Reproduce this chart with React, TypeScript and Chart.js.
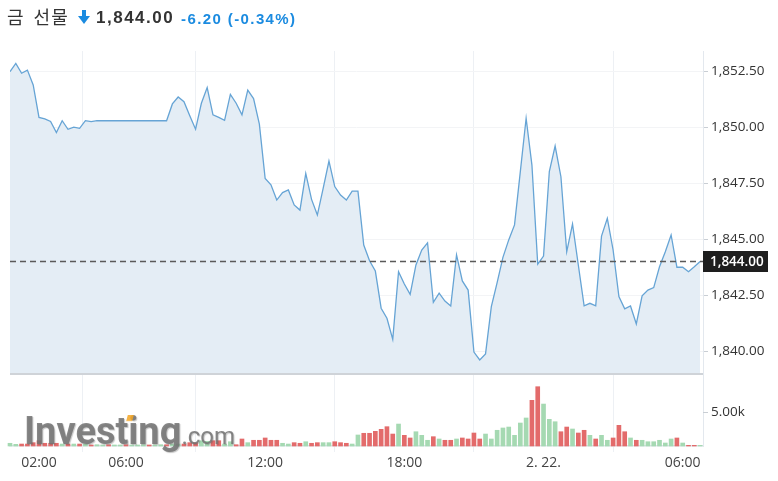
import React, { useEffect, useRef } from 'react';
import { Chart, registerables } from 'chart.js';

Chart.register(...registerables);

// ---- data ----
const prices: number[] = [
  1852.47, 1852.84, 1852.40, 1852.54, 1851.88, 1850.43, 1850.36, 1850.25, 1849.75, 1850.28,
  1849.90, 1849.99, 1849.94, 1850.28, 1850.24, 1850.28, 1850.28, 1850.28, 1850.28, 1850.28,
  1850.28, 1850.28, 1850.28, 1850.28, 1850.28, 1850.28, 1850.28, 1850.28, 1851.03, 1851.34,
  1851.13, 1850.50, 1849.90, 1851.06, 1851.76, 1850.54, 1850.43, 1850.30, 1851.46, 1851.06,
  1850.54, 1851.65, 1851.27, 1850.13, 1847.70, 1847.42, 1846.74, 1847.07, 1847.19, 1846.52,
  1846.29, 1847.93, 1846.77, 1846.07, 1847.26, 1848.48, 1847.34, 1846.96, 1846.74, 1847.14,
  1847.14, 1844.73, 1844.03, 1843.57, 1841.91, 1841.46, 1840.52, 1843.54, 1842.99, 1842.53,
  1843.84, 1844.51, 1844.83, 1842.17, 1842.58, 1842.23, 1842.01, 1844.29, 1843.13, 1842.72,
  1839.95, 1839.60, 1839.87, 1841.98, 1843.05, 1844.18, 1844.96, 1845.63, 1848.01, 1850.39,
  1848.30, 1843.88, 1844.24, 1848.01, 1849.15, 1847.78, 1844.43, 1845.67, 1843.84, 1842.02,
  1842.13, 1842.02, 1845.13, 1845.92, 1844.51, 1842.43, 1841.88, 1842.01, 1841.21, 1842.46,
  1842.72, 1842.83, 1843.76, 1844.43, 1845.18, 1843.74, 1843.74, 1843.54, 1843.76, 1844.00,
];

const volumes: number[] = [
  400, 250, 290, 290, 490, 780, 400, 400, 400, 290,
  290, 290, 290, 290, 150, 190, 150, 190, 150, 150,
  190, 150, 150, 190, 150, 150, 190, 190, 290, 290,
  290, 490, 490, 780, 690, 780, 780, 290, 630, 190,
  1030, 490, 840, 840, 1180, 840, 840, 400, 290, 490,
  400, 630, 400, 490, 490, 490, 630, 490, 400, 290,
  1620, 1870, 1870, 2160, 2450, 2840, 1760, 3230, 1570, 1180,
  2100, 1570, 840, 1370, 1030, 840, 840, 1030, 1180, 1030,
  1910, 1030, 1760, 1030, 2310, 2650, 2790, 1570, 3380, 4120,
  6720, 8720, 6170, 3920, 3570, 2100, 2790, 2500, 1910, 2310,
  1570, 1030, 1570, 840, 1180, 3040, 2100, 1180, 840, 840,
  630, 630, 840, 440, 1030, 1180, 440, 100, 100, 100,
];

// u = up (green), d = down (red)
const volumeDir: string[] = [
  'u', 'u', 'd', 'd', 'd', 'd', 'd', 'd', 'd', 'u',
  'd', 'u', 'd', 'u', 'd', 'u', 'u', 'd', 'u', 'u',
  'd', 'u', 'u', 'u', 'd', 'u', 'u', 'd', 'u', 'u',
  'd', 'd', 'd', 'u', 'u', 'd', 'd', 'u', 'u', 'd',
  'd', 'u', 'd', 'd', 'd', 'd', 'd', 'u', 'u', 'd',
  'd', 'u', 'd', 'd', 'u', 'u', 'd', 'd', 'd', 'u',
  'u', 'd', 'd', 'd', 'd', 'd', 'd', 'u', 'd', 'd',
  'u', 'u', 'u', 'd', 'u', 'd', 'd', 'u', 'd', 'd',
  'd', 'd', 'u', 'u', 'u', 'u', 'u', 'u', 'u', 'u',
  'd', 'd', 'u', 'u', 'u', 'd', 'd', 'u', 'd', 'd',
  'u', 'd', 'u', 'u', 'd', 'd', 'd', 'u', 'd', 'u',
  'u', 'u', 'u', 'u', 'u', 'd', 'u', 'd', 'd', 'u',
];

const xTickIndex: number[] = [5, 20, 44, 68, 92, 116];
const xTickLabels: string[] = ['02:00', '06:00', '12:00', '18:00', '2. 22.', '06:00'];
const priceTicks: number[] = [1840, 1842.5, 1845, 1847.5, 1850, 1852.5];
const volumeTicks: number[] = [5000];
const lastPrice = 1844.0;

const titleName = '금 선물';
const titlePrice = '1,844.00';
const titleChange = '-6.20';
const titleChangePct = '(-0.34%)';

// ---- scale ranges ----
const priceMin = 1835.759;
const priceMax = 1853.393;
const pricePaneFloor = 1839.018;
const volumeMax = 58088;

const UP = '#a5d9b2';
const DOWN = '#e36b6b';

const fmtPrice = (v: number) =>
  v.toLocaleString('en-US', { minimumFractionDigits: 2, maximumFractionDigits: 2 });

const overlayPlugin = {
  id: 'goldOverlay',
  afterDatasetsDraw(chart: any) {
    const { ctx, chartArea: a, scales } = chart;
    const y = scales.y;
    ctx.save();
    const sepY = Math.round(y.getPixelForValue(pricePaneFloor)) + 1;
    ctx.strokeStyle = '#cfd3d8';
    ctx.lineWidth = 2;
    ctx.beginPath();
    ctx.moveTo(a.left, sepY);
    ctx.lineTo(a.right, sepY);
    ctx.stroke();

    const py = Math.round(y.getPixelForValue(lastPrice)) + 0.5;
    ctx.setLineDash([6, 4]);
    ctx.strokeStyle = '#5a5a5a';
    ctx.lineWidth = 1.5;
    ctx.beginPath();
    ctx.moveTo(a.left, py);
    ctx.lineTo(a.right, py);
    ctx.stroke();
    ctx.setLineDash([]);
    ctx.restore();
  },
  afterDraw(chart: any) {
    const { ctx, chartArea: a, scales } = chart;
    const y = scales.y;
    ctx.save();
    const py = Math.round(y.getPixelForValue(lastPrice));
    ctx.fillStyle = '#1e1e1e';
    ctx.fillRect(a.right, py - 10, 65, 21);
    ctx.fillStyle = '#ffffff';
    ctx.font = '600 13.5px "Open Sans"';
    ctx.textBaseline = 'middle';
    ctx.textAlign = 'left';
    ctx.fillText(fmtPrice(lastPrice), a.right + 7, py + 1);

    const vy = Math.round(scales.yv.getPixelForValue(volumeTicks[0])) + 0.5;
    ctx.strokeStyle = '#c9ced4';
    ctx.lineWidth = 1;
    ctx.beginPath();
    ctx.moveTo(a.right, vy);
    ctx.lineTo(a.right + 5, vy);
    ctx.stroke();
    ctx.fillStyle = '#333333';
    ctx.font = '13.5px "Open Sans"';
    ctx.fillText((volumeTicks[0] / 1000).toFixed(2) + 'k', a.right + 8, vy);
    ctx.restore();
  },
};

export default function App() {
  const canvasRef = useRef<HTMLCanvasElement | null>(null);

  useEffect(() => {
    const canvas = canvasRef.current;
    if (!canvas) return;
    const chart = new Chart(canvas, {
      type: 'line',
      data: {
        datasets: [
          {
            type: 'line',
            data: prices.map((p, i) => ({ x: i, y: p })),
            yAxisID: 'y',
            xAxisID: 'x',
            borderColor: '#66a4d5',
            borderWidth: 1.3,
            backgroundColor: '#e4edf5',
            fill: { value: pricePaneFloor },
            pointRadius: 0,
            tension: 0,
            order: 1,
          } as any,
          {
            type: 'bar',
            data: volumes.map((v, i) => ({ x: i, y: v })),
            yAxisID: 'yv',
            xAxisID: 'x',
            backgroundColor: volumeDir.map((d) => (d === 'u' ? UP : DOWN)),
            barThickness: 4,
            clip: false,
            order: 2,
          } as any,
        ],
      },
      options: {
        animation: false,
        responsive: false,
        maintainAspectRatio: false,
        events: [],
        layout: { padding: { left: 10, top: 51, right: 0, bottom: 0 } },
        plugins: { legend: { display: false }, tooltip: { enabled: false } },
        scales: {
          x: {
            type: 'linear',
            min: 0,
            max: 119.5,
            offset: false,
            position: 'bottom',
            afterBuildTicks: (s: any) => {
              s.ticks = xTickIndex.map((v) => ({ value: v }));
            },
            afterFit: (s: any) => {
              s.height = 35;
            },
            ticks: {
              autoSkip: false,
              maxRotation: 0,
              padding: 3,
              color: '#444',
              font: { family: '"Open Sans"', size: 14 },
              callback: (v: any) => {
                const k = xTickIndex.indexOf(Number(v));
                return k >= 0 ? xTickLabels[k] : '';
              },
            },
            grid: { color: '#edf0f4', tickColor: '#edf0f4', tickLength: 6, lineWidth: 1 },
            border: { display: true, color: '#dde3ea', width: 1.5 },
          },
          y: {
            type: 'linear',
            position: 'right',
            min: priceMin,
            max: priceMax,
            afterBuildTicks: (s: any) => {
              s.ticks = priceTicks.map((v) => ({ value: v }));
            },
            afterFit: (s: any) => {
              s.width = 75;
            },
            ticks: {
              padding: 3,
              color: '#333',
              font: { family: '"Open Sans"', size: 13.5 },
              callback: (v: any) => fmtPrice(Number(v)),
            },
            grid: { color: '#f3f4f6', tickColor: '#c9ced4', tickLength: 5 },
            border: { display: true, color: '#e3e8ee' },
          },
          yv: {
            type: 'linear',
            display: false,
            min: 0,
            max: volumeMax,
          },
        },
      } as any,
      plugins: [overlayPlugin],
    });
    return () => chart.destroy();
  }, []);

  return (
    <div style={{ position: 'fixed', left: 0, top: 0, width: 778, height: 481, background: '#fff', overflow: 'hidden' }}>
      <canvas ref={canvasRef} width={778} height={481} style={{ position: 'absolute', left: 0, top: 0, width: 778, height: 481 }} />
      <span style={{ position: 'absolute', left: 7, top: 6, font: '18px "Noto Sans CJK KR"', lineHeight: '20px', letterSpacing: 1, color: '#333', wordSpacing: 4, whiteSpace: 'nowrap' }}>{titleName}</span>
      <svg width="12" height="14" viewBox="0 0 12 14" style={{ position: 'absolute', left: 78, top: 10 }}>
        <rect x="4" y="0" width="4" height="8" fill="#1b8be0" />
        <polygon points="0,6 12,6 6,14" fill="#1b8be0" />
      </svg>
      <span style={{ position: 'absolute', left: 96, top: 8, font: 'bold 17px "Liberation Sans"', lineHeight: '20px', letterSpacing: 1.5, color: '#333', whiteSpace: 'nowrap' }}>{titlePrice}</span>
      <span style={{ position: 'absolute', left: 181, top: 9, font: 'bold 15px "Liberation Sans"', lineHeight: '20px', letterSpacing: 1.4, color: '#1b8be0', whiteSpace: 'nowrap' }}>{titleChange} {titleChangePct}</span>
      <div style={{ position: 'absolute', left: 24, top: 411, font: 'bold 38px Roboto', lineHeight: '40px', color: 'rgba(115,115,115,0.85)', whiteSpace: 'nowrap', pointerEvents: 'none', filter: 'blur(0.5px)', textShadow: '1px 1px 1px rgba(90,90,90,0.35)' }}>
        Investing<span style={{ font: '24px Roboto', lineHeight: '40px' }}>.com</span>
      </div>
      <div style={{ position: 'absolute', left: 127, top: 415, width: 6, height: 6, background: 'rgba(245,166,35,0.85)', transform: 'skewX(-15deg)', filter: 'blur(0.4px)' }} />
    </div>
  );
}
